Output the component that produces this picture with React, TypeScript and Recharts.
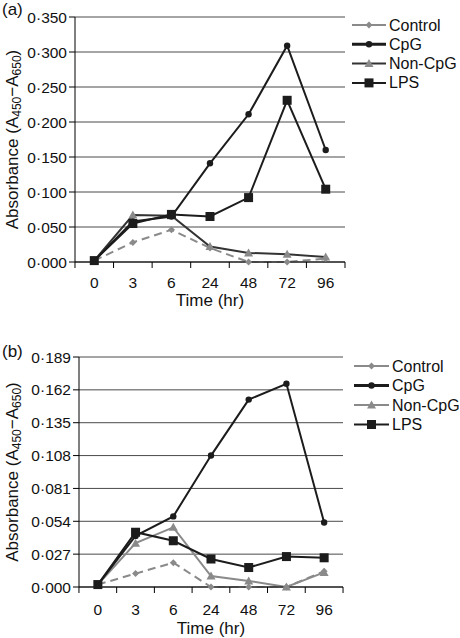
import React from 'react';
import { CartesianGrid, Legend, Line, LineChart, XAxis, YAxis } from 'recharts';

const times = ['0', '3', '6', '24', '48', '72', '96'];
const seriesNames = ['Control', 'CpG', 'Non-CpG', 'LPS'];

// panel (a)
const controlA = [0.002, 0.028, 0.046, 0.02, 0.0, 0.0, 0.005];
const cpgA = [0.002, 0.058, 0.065, 0.141, 0.211, 0.309, 0.16];
const nonCpgA = [0.002, 0.067, 0.066, 0.022, 0.013, 0.011, 0.007];
const lpsA = [0.002, 0.055, 0.068, 0.065, 0.092, 0.231, 0.104];
const ticksA = [0, 0.05, 0.1, 0.15, 0.2, 0.25, 0.3, 0.35];

// panel (b)
const controlB = [0.002, 0.011, 0.02, 0.0, 0.0, 0.0, 0.013];
const cpgB = [0.002, 0.042, 0.058, 0.108, 0.154, 0.167, 0.053];
const nonCpgB = [0.002, 0.036, 0.049, 0.009, 0.005, 0.0, 0.012];
const lpsB = [0.002, 0.045, 0.038, 0.023, 0.016, 0.025, 0.024];
const ticksB = [0, 0.027, 0.054, 0.081, 0.108, 0.135, 0.162, 0.189];

const FONT = '"Liberation Sans", Arial, sans-serif';
const BLACK = '#1c1c1c';
const GRAY = '#8a8a8a';

const buildRows = (c: number[], p: number[], n: number[], l: number[]) =>
  times.map((t, i) => ({ time: t, Control: c[i], CpG: p[i], 'Non-CpG': n[i], LPS: l[i] }));

const dataA = buildRows(controlA, cpgA, nonCpgA, lpsA);
const dataB = buildRows(controlB, cpgB, nonCpgB, lpsB);

const fmt = (v: number) => v.toFixed(3).replace('.', '·');

const Marker = ({ kind, cx, cy }: { kind: string; cx: number; cy: number }) => {
  if (cx == null || cy == null) return null;
  if (kind === 'Control')
    return <polygon points={`${cx},${cy - 3.5} ${cx + 3.5},${cy} ${cx},${cy + 3.5} ${cx - 3.5},${cy}`} fill={GRAY} />;
  if (kind === 'CpG') return <circle cx={cx} cy={cy} r={3.2} fill={BLACK} />;
  if (kind === 'Non-CpG')
    return <polygon points={`${cx},${cy - 4.5} ${cx + 4.5},${cy + 3.5} ${cx - 4.5},${cy + 3.5}`} fill={GRAY} />;
  return <rect x={cx - 4.5} y={cy - 4.5} width={9} height={9} fill={BLACK} />;
};

const dotFor = (kind: string) => (props: any) => <Marker key={`${kind}-${props.index}`} kind={kind} cx={props.cx} cy={props.cy} />;

const makeTick = (half: number, dy: number) => (props: any) => {
  const { x, y, payload, index } = props;
  const off = half;
  return (
    <g>
      <line x1={x - off} y1={y} x2={x - off} y2={y + 6} stroke="#000" />
      {index === times.length - 1 && <line x1={x + off} y1={y} x2={x + off} y2={y + 6} stroke="#000" />}
      <text x={x} y={y + dy} textAnchor="middle" fontSize={15.5} fontFamily={FONT} fill="#111">
        {payload.value}
      </text>
    </g>
  );
};

const YLabel = (props: any) => {
  const vb = props.viewBox || {};
  const cx = 14;
  const cy = vb.y + vb.height / 2;
  return (
    <text
      x={cx}
      y={cy}
      transform={`rotate(-90 ${cx} ${cy})`}
      textAnchor="middle"
      dominantBaseline="middle"
      fontSize={17}
      fontFamily={FONT}
      fill="#111"
    >
      Absorbance (A<tspan dy={4} fontSize={12}>450</tspan>
      <tspan dy={-4}>−A</tspan>
      <tspan dy={4} fontSize={12}>650</tspan>
      <tspan dy={-4}>)</tspan>
    </text>
  );
};

const LegendBox = ({ lineColors, gap, lineLen }: { lineColors: string[]; gap: number; lineLen: number }) => (
  <svg width={110} height={80} style={{ display: 'block' }}>
    {seriesNames.map((name, i) => {
      const y = 10 + i * gap;
      return (
        <g key={name}>
          <line x1={2} y1={y} x2={2 + lineLen} y2={y} stroke={lineColors[i]} strokeWidth={name === 'CpG' ? 3 : 2} />
          <Marker kind={name} cx={2 + lineLen / 2} cy={y} />
          <text x={lineLen + 5} y={y} dominantBaseline="central" fontSize={16} fontFamily={FONT} fill="#111">
            {name}
          </text>
        </g>
      );
    })}
  </svg>
);

interface PanelProps {
  data: any[];
  ticks: number[];
  height: number;
  margin: { top: number; right: number; left: number; bottom: number };
  yWidth: number;
  xHeight: number;
  half: number;
  tickDy: number;
  titleDy: number;
  nonCpgColor: string;
  legendPos: { left: number; top: number };
  legendGap: number;
  legendLineLen: number;
}

const Panel = (p: PanelProps) => (
  <LineChart width={460} height={p.height} data={p.data} margin={p.margin}>
    <CartesianGrid vertical={false} stroke="#4a4a4a" horizontalValues={p.ticks} />
    <XAxis
      dataKey="time"
      scale="band"
      interval={0}
      tickLine={false}
      tickSize={0}
      tickMargin={0}
      height={p.xHeight}
      stroke="#000"
      tick={makeTick(p.half, p.tickDy)}
      label={{ value: 'Time (hr)', position: 'insideBottom', offset: p.titleDy, fontSize: 17, fontFamily: FONT, fill: '#111' }}
    />
    <YAxis
      domain={[0, p.ticks[p.ticks.length - 1]]}
      ticks={p.ticks}
      interval={0}
      tickFormatter={fmt}
      width={p.yWidth}
      stroke="#000"
      tickSize={6}
      tickMargin={2}
      tick={{ fontSize: 15.5, fontFamily: FONT, fill: '#111' }}
      label={{ content: YLabel }}
    />
    <YAxis yAxisId="r" orientation="right" domain={[0, p.ticks[p.ticks.length - 1]]} width={0} tick={false} tickLine={false} stroke="#4a4a4a" />
    <Legend
      layout="vertical"
      align="center"
      verticalAlign="middle"
      wrapperStyle={{ left: p.legendPos.left, top: p.legendPos.top, width: 110 }}
      content={() => (
        <LegendBox lineColors={[GRAY, BLACK, p.nonCpgColor, BLACK]} gap={p.legendGap} lineLen={p.legendLineLen} />
      )}
    />
    <Line dataKey="Control" stroke={GRAY} strokeWidth={2} strokeDasharray="8 5" dot={dotFor('Control')} isAnimationActive={false} />
    <Line dataKey="Non-CpG" stroke={p.nonCpgColor} strokeWidth={2} dot={dotFor('Non-CpG')} isAnimationActive={false} />
    <Line dataKey="CpG" stroke={BLACK} strokeWidth={2} dot={dotFor('CpG')} isAnimationActive={false} />
    <Line dataKey="LPS" stroke={BLACK} strokeWidth={2} dot={dotFor('LPS')} isAnimationActive={false} />
  </LineChart>
);

const panelLabel: React.CSSProperties = { position: 'absolute', fontFamily: FONT, fontSize: 17, color: '#111' };

export default function App() {
  return (
    <div style={{ position: 'absolute', left: 0, top: 0, width: 460, height: 638, background: '#fff' }}>
      <div style={{ position: 'absolute', left: 0, top: 0 }}>
        <Panel
          data={dataA}
          ticks={ticksA}
          height={310}
          margin={{ top: 17, right: 115, left: 0, bottom: 0 }}
          yWidth={75}
          xHeight={48}
          half={19.3}
          tickDy={26}
          titleDy={4}
          nonCpgColor="#333"
          legendPos={{ left: 350, top: 15 }}
          legendGap={19.3}
          legendLineLen={34}
        />
      </div>
      <div style={{ position: 'absolute', left: 0, top: 320 }}>
        <Panel
          data={dataB}
          ticks={ticksB}
          height={318}
          margin={{ top: 37, right: 117, left: 0, bottom: 0 }}
          yWidth={79}
          xHeight={51}
          half={18.9}
          tickDy={28}
          titleDy={4}
          nonCpgColor={GRAY}
          legendPos={{ left: 352, top: 36 }}
          legendGap={19.5}
          legendLineLen={35}
        />
      </div>
      <div style={{ ...panelLabel, left: 2, top: 0 }}>(a)</div>
      <div style={{ ...panelLabel, left: 2, top: 342 }}>(b)</div>
    </div>
  );
}
